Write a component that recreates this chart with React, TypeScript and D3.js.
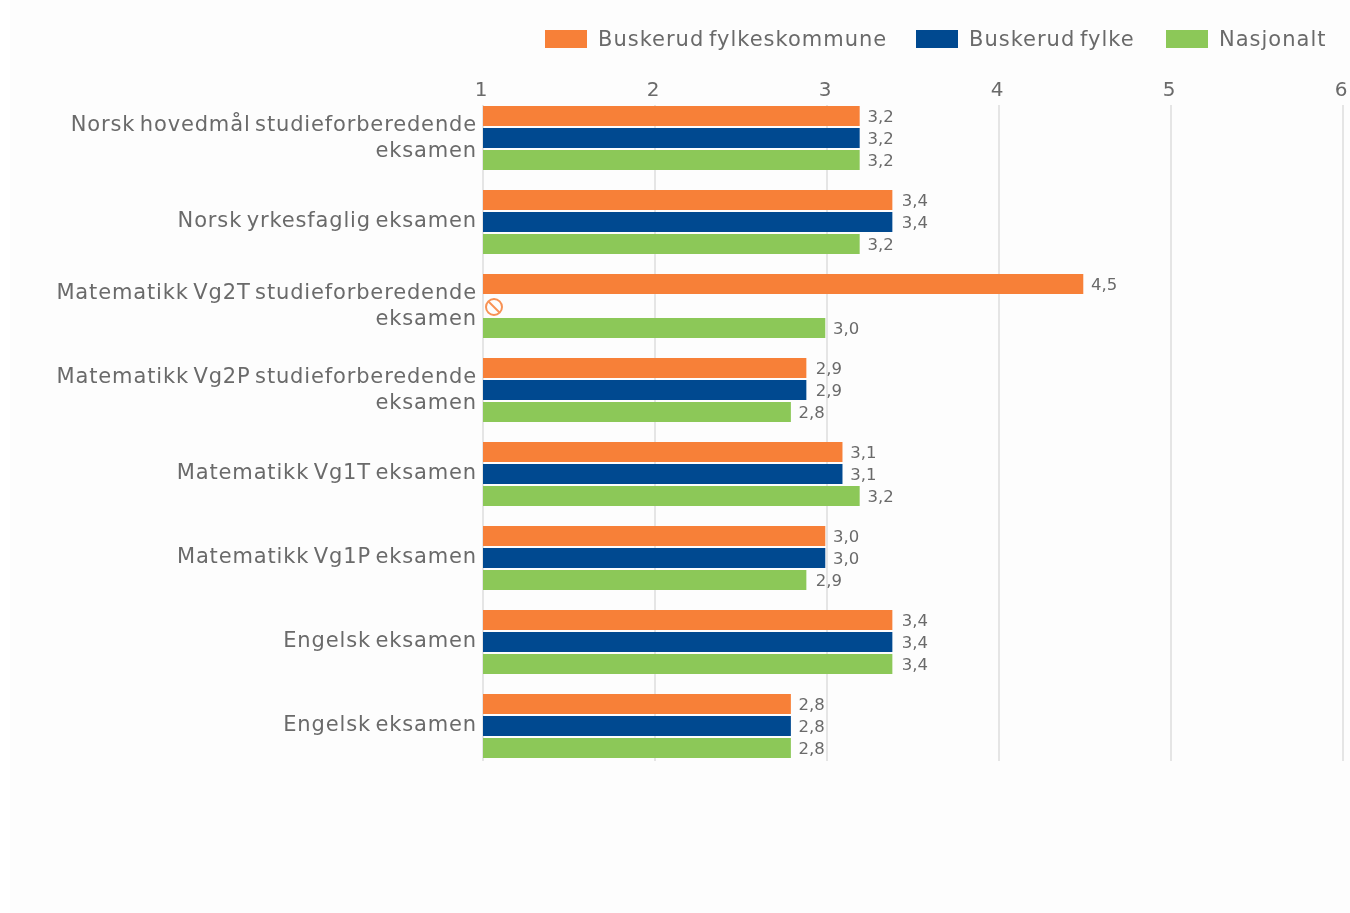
import React from "react";
import * as d3 from "d3";

const categories = [
  ["Norsk hovedmål studieforberedende", "eksamen"],
  ["Norsk yrkesfaglig eksamen"],
  ["Matematikk Vg2T studieforberedende", "eksamen"],
  ["Matematikk Vg2P studieforberedende", "eksamen"],
  ["Matematikk Vg1T eksamen"],
  ["Matematikk Vg1P eksamen"],
  ["Engelsk eksamen"],
  ["Engelsk eksamen"],
];
const fylkeskommune = [3.19, 3.38, 4.49, 2.88, 3.09, 2.99, 3.38, 2.79];
const fylke = [3.19, 3.38, null, 2.88, 3.09, 2.99, 3.38, 2.79];
const nasjonalt = [3.19, 3.19, 2.99, 2.79, 3.19, 2.88, 3.38, 2.79];
const seriesNames = ["Buskerud fylkeskommune", "Buskerud fylke", "Nasjonalt"];
const seriesValues = [fylkeskommune, fylke, nasjonalt];
const seriesColors = ["#f78038", "#004990", "#8cc858"];
const ticks = [1, 2, 3, 4, 5, 6];

const FONT = "'DejaVu Sans', sans-serif";
const TEXT = "#6a6a6a";
const x = d3.scaleLinear().domain([1, 6]).range([483, 1343]);
const yGroup = d3.scaleBand<number>().domain(d3.range(categories.length)).range([96, 768]);
const ySeries = d3.scaleBand<number>().domain([0, 1, 2]).range([10, 76]);
const fmt = (v: number) => d3.format(".1f")(v).replace(".", ",");
const rounded = (v: number) => Math.round(v * 10) / 10;
const legendX = [545, 916, 1166];

export default function App() {
  return (
    <svg width={1350} height={913} style={{ position: "absolute", left: 0, top: 0, background: "#fdfdfd", filter: "blur(0.4px)" }}>
      <rect x={0} y={0} width={10} height={913} fill="#ffffff" />
      {seriesNames.map((n, i) => (
        <g key={n}>
          <rect x={legendX[i]} y={30} width={42} height={18} fill={seriesColors[i]} />
          <text x={legendX[i] + 53} y={46} fontFamily={FONT} fontSize={21} letterSpacing={1} wordSpacing={-3} fill={TEXT}>{n}</text>
        </g>
      ))}
      {ticks.map((t) => (
        <g key={t}>
          <line x1={x(t)} x2={x(t)} y1={105} y2={761} stroke="#dcdcdc" strokeWidth={1.5} />
          <text x={x(t) - 2} y={96} textAnchor="middle" fontFamily={FONT} fontSize={20} fill={TEXT}>{t}</text>
        </g>
      ))}
      {categories.map((lines, g) => {
        const y0 = yGroup(g)!;
        const cy = y0 + yGroup.bandwidth() / 2;
        return (
          <g key={g}>
            {lines.map((l, k) => (
              <text key={k} x={477} y={cy + (lines.length === 2 ? (k === 0 ? -7 : 19) : 5)} textAnchor="end"
                fontFamily={FONT} fontSize={21} letterSpacing={0.85} wordSpacing={-3} fill={TEXT}>{l}</text>
            ))}
            {seriesValues.map((vals, s) => {
              const v = vals[g];
              const by = y0 + ySeries(s)!;
              const bh = ySeries.bandwidth() - 2;
              if (v === null) {
                const cx = x(1) + 11, c = by + bh / 2 + 1;
                return (
                  <g key={s} fill="none" stroke={seriesColors[0]} strokeWidth={2} opacity={0.85}>
                    <circle cx={cx} cy={c} r={8} />
                    <line x1={cx - 5.5} y1={c - 5.5} x2={cx + 5.5} y2={c + 5.5} />
                  </g>
                );
              }
              return (
                <g key={s}>
                  <rect x={x(1)} y={by} width={x(v) - x(1)} height={bh} fill={seriesColors[s]} />
                  <text x={x(rounded(v)) + 6} y={by + 15.5} fontFamily={FONT} fontSize={16.5} fill={TEXT}>{fmt(v)}</text>
                </g>
              );
            })}
          </g>
        );
      })}
    </svg>
  );
}
